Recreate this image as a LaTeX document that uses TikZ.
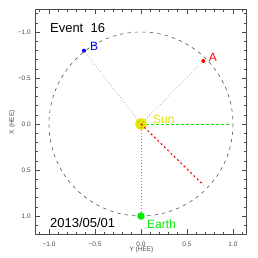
\documentclass[tikz,border=0pt]{standalone}
\usepackage{fontspec}
\setmainfont{Liberation Sans}
\definecolor{sunyellow}{RGB}{230,230,0}
\definecolor{egreen}{RGB}{0,235,0}
\definecolor{ared}{RGB}{255,0,0}
\definecolor{bblue}{RGB}{0,0,255}
\tikzset{
  axisline/.style={draw=black!70, line width=0.6pt},
  ticklab/.style={font=\fontsize{6.5}{7}\selectfont, text=black!70, inner sep=0pt},
  orbit/.style={draw=black!65, line width=0.6pt, dash pattern=on 3.5pt off 4pt},
  ray/.style={draw=black!45, line width=0.6pt, dash pattern=on 0.7pt off 2.3pt},
  body/.style={circle, inner sep=0pt, minimum size=#1},
  bigtext/.style={font=\fontsize{13}{15}\selectfont, inner sep=0pt, anchor=west},
  lab/.style={font=\fontsize{12}{14}\selectfont, inner sep=0pt, anchor=west},
}
\begin{document}
\begin{tikzpicture}[x=92pt,y=-92pt]
\useasboundingbox (-1.53261,-1.34783) rectangle (1.27174,1.45652);
\fill[white] (-1.53261,-1.34783) rectangle (1.27174,1.45652);
% frame
\draw[axisline] (-1.15,-1.25) rectangle (1.15,1.2);
\foreach \t in {-11,...,11}{
  \pgfmathsetmacro\xx{\t/10}
  \pgfmathtruncatemacro\ismaj{mod(abs(\t),5)==0 ? 1 : 0}
  \ifnum\ismaj=1 \def\tl{5pt}\else\def\tl{2.5pt}\fi
  \draw[axisline] (\xx,1.2) -- ++(0,\tl);
  \draw[axisline] (\xx,-1.25) -- ++(0,-\tl);
}
\foreach \t in {-12,...,11}{
  \pgfmathsetmacro\yy{\t/10}
  \pgfmathtruncatemacro\ismaj{mod(abs(\t),5)==0 ? 1 : 0}
  \ifnum\ismaj=1 \def\tl{5pt}\else\def\tl{2.5pt}\fi
  \draw[axisline] (-1.15,\yy) -- ++(\tl,0);
  \draw[axisline] (1.15,\yy) -- ++(-\tl,0);
}
% tick labels
\foreach \v/\s in {-1/{−1.0},-0.5/{−0.5},0/{0.0},0.5/{0.5},1/{1.0}}{
  \node[ticklab] at (\v,1.31) {\s};
  \node[ticklab, anchor=east] at (-1.196,\v) {\s};
}
\node[ticklab] (ylab) at (0.005,1.372) {Y (HEE)};
\node[ticklab, rotate=90] (xlab) at (-1.4,-0.02) {X (HEE)};
% orbit
\draw[orbit] (0,0) circle[radius=1];
% bodies
\coordinate (greenend) at (0.975,0);
\draw[egreen, line width=0.8pt, dash pattern=on 2.8pt off 2.2pt] (0,0) -- (greenend);
\node[body=4pt, fill=ared] (A) at (0.677,-0.685) {};
\node[body=4pt, fill=bblue] (B) at (-0.62,-0.797) {};
\node[body=7.5pt, fill=egreen] (Earth) at (0,1.0) {};
\node[body=11.5pt, fill=sunyellow] (Sun) at (0,0) {};
\draw[ray] (Sun.center) -- (A);
\draw[ray] (Sun.center) -- (B);
\draw[ray] (Sun.center) -- (Earth);
\coordinate (redend) at (0.68,0.665);
\draw[ared, line width=1.15pt, dash pattern=on 2pt off 2.6pt] (Sun.center) -- (redend);
% labels
\node[lab, text=ared] (Alab) at (0.735,-0.725) {A};
\node[lab, text=bblue] (Blab) at (-0.555,-0.84) {B};
\node[lab, text=sunyellow] (Sunlab) at (0.13,-0.045) {Sun};
\node[lab, text=egreen] (Earthlab) at (0.065,1.087) {Earth};
\node[bigtext] (ev) at (-0.99,-1.043) {Event\ \ 16};
\node[bigtext] (date) at (-0.99,1.076) {2013/05/01};
\end{tikzpicture}
\end{document}
